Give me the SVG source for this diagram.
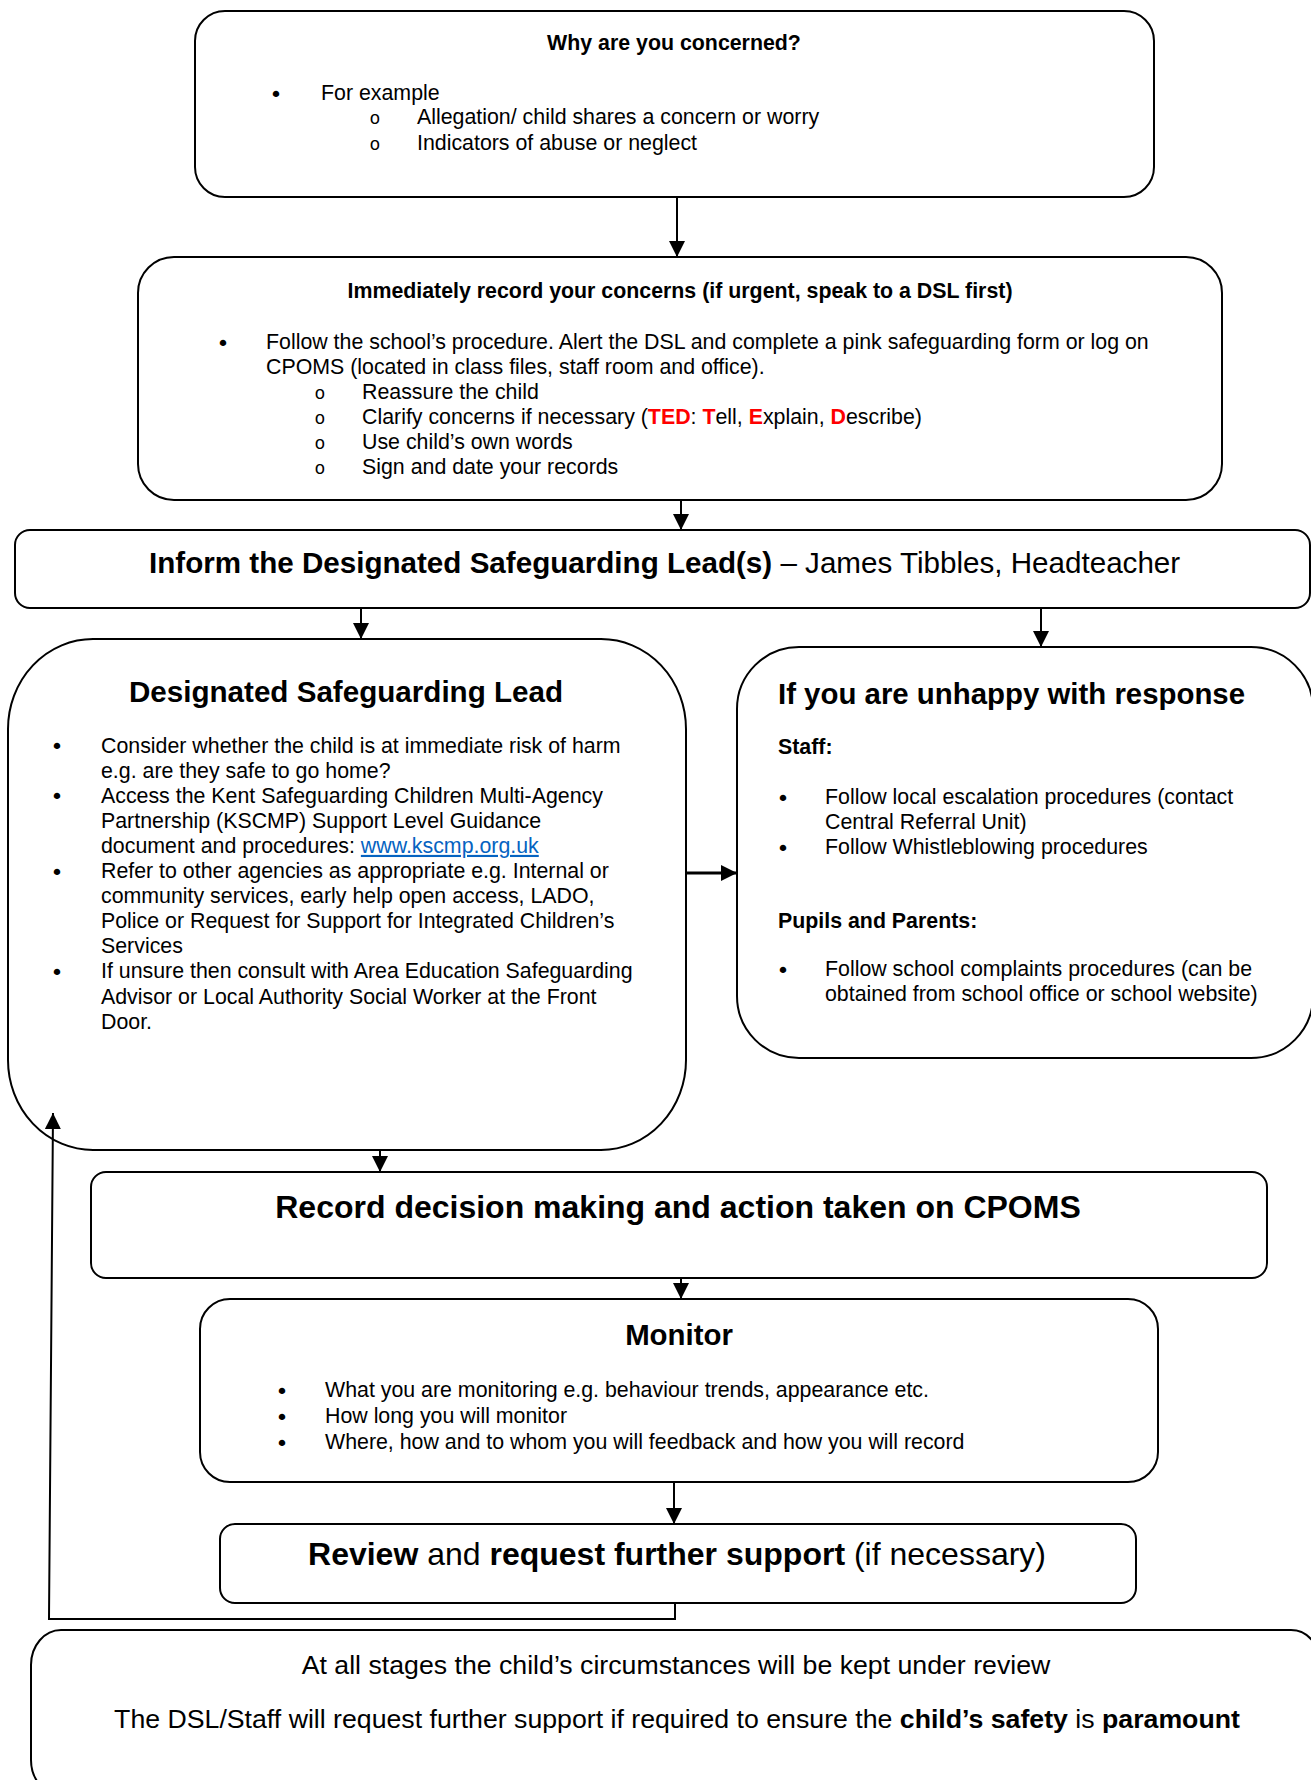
<svg xmlns="http://www.w3.org/2000/svg" width="1311" height="1780" viewBox="0 0 1311 1780">
<style>
.box{fill:#fff;stroke:#000;stroke-width:2}
.t{font-family:"Liberation Sans",Arial,sans-serif;font-size:21.35px;fill:#000}
.bl{font-family:"DejaVu Sans",sans-serif;font-size:22px;fill:#000;text-anchor:middle}
.b{font-weight:bold}
.o{font-family:"Liberation Mono","Courier New",monospace;font-size:18px;fill:#000;text-anchor:middle}
.h29{font-size:29.4px}
.h32{font-size:32px}
.h26{font-size:26.7px}
.red{fill:#ff0000;font-weight:bold}
.link{fill:#0563c1;text-decoration:underline}
.c{fill:none;stroke:#000;stroke-width:2}
</style>
<defs>
<marker id="ah" markerUnits="userSpaceOnUse" markerWidth="16" markerHeight="16" viewBox="0 0 16 16" refX="16" refY="8" orient="auto">
<path d="M0,0 L16,8 L0,16 z" fill="#000"/>
</marker>
</defs>
<rect width="1311" height="1780" fill="#fff"/>

<g id="why">
<rect class="box" x="195" y="11" width="959" height="186" rx="30"/>
<text class="t b" x="674" y="50" text-anchor="middle">Why are you concerned?</text>
<text class="bl" x="276" y="101.5">•</text>
<text class="t" x="321" y="100">For example</text>
<text class="o" x="375" y="124">o</text>
<text class="t" x="417" y="124">Allegation/ child shares a concern or worry</text>
<text class="o" x="375" y="149.5">o</text>
<text class="t" x="417" y="149.5">Indicators of abuse or neglect</text>
</g>

<g id="record-concerns">
<rect class="box" x="138" y="257" width="1084" height="243" rx="36"/>
<text class="t b" x="680" y="298" text-anchor="middle">Immediately record your concerns (if urgent, speak to a DSL first)</text>
<text class="bl" x="223" y="350.5">•</text>
<text class="t" x="266" y="349">Follow the school’s procedure. Alert the DSL and complete a pink safeguarding form or log on</text>
<text class="t" x="266" y="374">CPOMS (located in class files, staff room and office).</text>
<text class="o" x="320" y="398.5">o</text>
<text class="t" x="362" y="398.5">Reassure the child</text>
<text class="o" x="320" y="423.5">o</text>
<text class="t" x="362" y="423.5">Clarify concerns if necessary (<tspan class="red">TED</tspan>: <tspan class="red">T</tspan>ell, <tspan class="red">E</tspan>xplain, <tspan class="red">D</tspan>escribe)</text>
<text class="o" x="320" y="448.5">o</text>
<text class="t" x="362" y="448.5">Use child’s own words</text>
<text class="o" x="320" y="473.5">o</text>
<text class="t" x="362" y="473.5">Sign and date your records</text>
</g>

<g id="inform-dsl">
<rect class="box" x="15" y="530" width="1295" height="78" rx="15"/>
<text class="t" x="149" y="573" style="font-size:29.6px"><tspan class="b">Inform the Designated Safeguarding Lead(s)</tspan> – James Tibbles, Headteacher</text>
</g>

<g id="dsl">
<rect class="box" x="8" y="639" width="678" height="511" rx="85" ry="90"/>
<text class="t b" x="346" y="702" text-anchor="middle" style="font-size:29.6px">Designated Safeguarding Lead</text>
<text class="bl" x="57" y="754">•</text>
<text class="t" x="101" y="752.5">Consider whether the child is at immediate risk of harm</text>
<text class="t" x="101" y="777.6">e.g. are they safe to go home?</text>
<text class="bl" x="57" y="804.2">•</text>
<text class="t" x="101" y="802.7">Access the Kent Safeguarding Children Multi-Agency</text>
<text class="t" x="101" y="827.8">Partnership (KSCMP) Support Level Guidance</text>
<text class="t" x="101" y="852.9">document and procedures: <tspan class="link">www.kscmp.org.uk</tspan></text>
<text class="bl" x="57" y="879.5">•</text>
<text class="t" x="101" y="878">Refer to other agencies as appropriate e.g. Internal or</text>
<text class="t" x="101" y="903.1">community services, early help open access, LADO,</text>
<text class="t" x="101" y="928.2">Police or Request for Support for Integrated Children’s</text>
<text class="t" x="101" y="953.3">Services</text>
<text class="bl" x="57" y="979.9">•</text>
<text class="t" x="101" y="978.4">If unsure then consult with Area Education Safeguarding</text>
<text class="t" x="101" y="1003.5">Advisor or Local Authority Social Worker at the Front</text>
<text class="t" x="101" y="1028.6">Door.</text>
</g>

<g id="unhappy">
<rect class="box" x="737" y="647" width="576" height="411" rx="62"/>
<text class="t b h29" x="778" y="704">If you are unhappy with response</text>
<text class="t b" x="778" y="754">Staff:</text>
<text class="bl" x="783" y="805.5">•</text>
<text class="t" x="825" y="804">Follow local escalation procedures (contact</text>
<text class="t" x="825" y="829">Central Referral Unit)</text>
<text class="bl" x="783" y="855.5">•</text>
<text class="t" x="825" y="854">Follow Whistleblowing procedures</text>
<text class="t b" x="778" y="927.5">Pupils and Parents:</text>
<text class="bl" x="783" y="977.5">•</text>
<text class="t" x="825" y="976">Follow school complaints procedures (can be</text>
<text class="t" x="825" y="1000.5">obtained from school office or school website)</text>
</g>

<g id="record-decision">
<rect class="box" x="91" y="1172" width="1176" height="106" rx="15"/>
<text class="t b h32" x="678" y="1218" text-anchor="middle">Record decision making and action taken on CPOMS</text>
</g>

<g id="monitor">
<rect class="box" x="200" y="1299" width="958" height="183" rx="30"/>
<text class="t b h29" x="679" y="1345" text-anchor="middle">Monitor</text>
<text class="bl" x="282" y="1398.5">•</text>
<text class="t" x="325" y="1397">What you are monitoring e.g. behaviour trends, appearance etc.</text>
<text class="bl" x="282" y="1424.5">•</text>
<text class="t" x="325" y="1423">How long you will monitor</text>
<text class="bl" x="282" y="1450.5">•</text>
<text class="t" x="325" y="1449">Where, how and to whom you will feedback and how you will record</text>
</g>

<g id="review">
<rect class="box" x="220" y="1524" width="916" height="79" rx="15"/>
<text class="t h32" x="677" y="1565" text-anchor="middle"><tspan class="b">Review</tspan> and <tspan class="b">request further support</tspan> (if necessary)</text>
</g>

<g id="note">
<rect class="box" x="31" y="1630" width="1290" height="165" rx="30" ry="35"/>
<text class="t h26" x="676" y="1674" text-anchor="middle">At all stages the child’s circumstances will be kept under review</text>
<text class="t h26" x="677" y="1728" text-anchor="middle">The DSL/Staff will request further support if required to ensure the <tspan class="b">child’s safety</tspan> is <tspan class="b">paramount</tspan></text>
</g>

<g id="connectors">
<line class="c" x1="677" y1="197" x2="677" y2="257" marker-end="url(#ah)"/>
<line class="c" x1="681" y1="500" x2="681" y2="530" marker-end="url(#ah)"/>
<line class="c" x1="361" y1="608" x2="361" y2="639" marker-end="url(#ah)"/>
<line class="c" x1="1041" y1="608" x2="1041" y2="647" marker-end="url(#ah)"/>
<line class="c" x1="686" y1="873" x2="737" y2="873" style="stroke-width:3" marker-end="url(#ah)"/>
<line class="c" x1="380" y1="1150" x2="380" y2="1172" marker-end="url(#ah)"/>
<line class="c" x1="681" y1="1278" x2="681" y2="1299" marker-end="url(#ah)"/>
<line class="c" x1="674" y1="1482" x2="674" y2="1524" marker-end="url(#ah)"/>
<polyline class="c" points="675,1603 675,1619 49,1619 53,1113" marker-end="url(#ah)"/>
</g>
</svg>
